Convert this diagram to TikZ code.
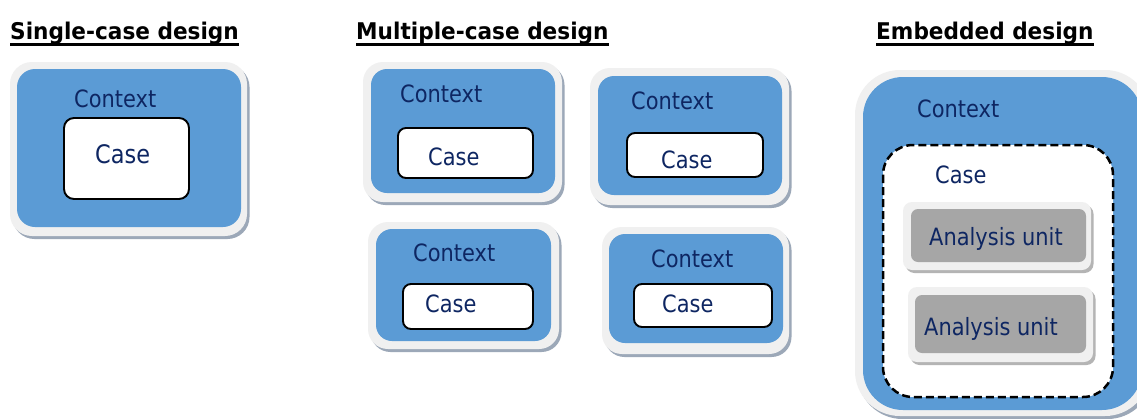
\documentclass[tikz,border=0pt]{standalone}
\usepackage{fontspec}
\newfontfamily\bodyfont{DejaVu Sans}[FakeStretch=0.88]
\newfontfamily\headfont{DejaVu Sans}[FakeStretch=0.94]
\definecolor{ctxblue}{HTML}{5B9BD5}
\definecolor{framec}{HTML}{F0F0F0}
\definecolor{shadowc}{HTML}{9CA8B8}
\definecolor{ushadow}{HTML}{B4B4B4}
\definecolor{unitgray}{HTML}{A6A6A6}
\definecolor{navy}{RGB}{14,38,98}
\newcommand\myframe[6]{%
  \fill[#6, rounded corners=#5] ({#1+2.5},{#2+3}) rectangle ({#3+2.5},{#4+3});
  \fill[framec, rounded corners=#5] (#1,#2) rectangle (#3,#4);}
\tikzset{
  title/.style={anchor=base west, inner sep=0pt, font=\headfont\bfseries\fontsize{23}{27}\selectfont, text=black},
  lbl/.style={anchor=base west, inner sep=0pt, font=\bodyfont\fontsize{23.8}{28}\selectfont, text=navy},
  biglbl/.style={lbl, font=\bodyfont\fontsize{25.5}{30}\selectfont},
  ctx/.style={fill=ctxblue},
  casebox/.style={fill=white, draw=black, line width=1.9pt},
  dashbox/.style={fill=white, draw=black, line width=2.5pt, dash pattern=on 8pt off 4pt},
  unit/.style={fill=unitgray},
  uline/.style={line width=2.4pt, black}
}
\begin{document}
\begin{tikzpicture}[x=1pt, y=-1pt]
\useasboundingbox (0,0) rectangle (1137,418);
\fill[white] (0,0) rectangle (1137,418);

% ---------- titles ----------
\node[title] (t1) at (10,39) {Single-case design};
\node[title] (t2) at (356,39) {Multiple-case design};
\node[title] (t3) at (876,39) {Embedded design};
\foreach \t in {t1,t2,t3}
  \draw[uline] ([yshift=-5.5pt]\t.base west) -- ([yshift=-5.5pt]\t.base east);

% ---------- single-case ----------
\myframe{10}{62}{247}{236}{22}{shadowc}
\fill[ctx, rounded corners=18] (17,69) rectangle (241,227);
\draw[casebox, rounded corners=10] (64,118) rectangle (189,199);
\node[lbl] (sctx) at (74,107) {Context};
\node[biglbl] (scase) at (95,163) {Case};

% ---------- multiple-case ----------
% top left
\myframe{363}{62}{562}{202}{20}{shadowc}
\fill[ctx, rounded corners=16] (371,69) rectangle (555,193);
\draw[casebox, rounded corners=8] (398,128) rectangle (533,178);
\node[lbl] (m1ctx) at (400,102) {Context};
\node[lbl] (m1case) at (428,165) {Case};
% top right
\myframe{590}{68}{789}{205}{20}{shadowc}
\fill[ctx, rounded corners=16] (598,76) rectangle (782,195);
\draw[casebox, rounded corners=8] (627,133) rectangle (763,177);
\node[lbl] (m2ctx) at (631,109) {Context};
\node[lbl] (m2case) at (661,168) {Case};
% bottom left
\myframe{368}{222}{559}{349}{20}{shadowc}
\fill[ctx, rounded corners=16] (376,229) rectangle (551,341);
\draw[casebox, rounded corners=8] (403,284) rectangle (533,329);
\node[lbl] (m3ctx) at (413,261) {Context};
\node[lbl] (m3case) at (425,312) {Case};
% bottom right
\myframe{602}{227}{789}{354}{20}{shadowc}
\fill[ctx, rounded corners=16] (609,234) rectangle (783,343);
\draw[casebox, rounded corners=8] (634,284) rectangle (772,327);
\node[lbl] (m4ctx) at (651,267) {Context};
\node[lbl] (m4case) at (662,312) {Case};

% ---------- embedded ----------
\myframe{855}{70}{1150}{416}{45}{shadowc}
\fill[ctx, rounded corners=40] (863,77) rectangle (1142,410);
\draw[dashbox, rounded corners=30] (883,145) rectangle (1113,397);
\node[lbl] (ectx) at (917,117) {Context};
\node[lbl] (ecase) at (935,183) {Case};
\myframe{903}{202}{1091}{270}{9}{ushadow}
\fill[unit, rounded corners=7] (911,209) rectangle (1086,262);
\node[lbl] (au1) at (929,245) {Analysis unit};
\myframe{908}{287}{1093}{362}{9}{ushadow}
\fill[unit, rounded corners=7] (915,295) rectangle (1086,353);
\node[lbl] (au2) at (924,335) {Analysis unit};
\end{tikzpicture}
\end{document}
